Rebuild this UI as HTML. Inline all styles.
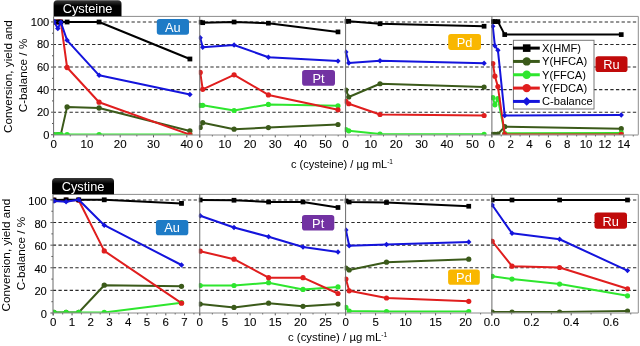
<!DOCTYPE html><html><head><meta charset="utf-8"><style>html,body{margin:0;padding:0;background:#fff;width:640px;height:346px;overflow:hidden}svg{display:block;will-change:transform}</style></head><body>
<svg width="640" height="346" viewBox="0 0 640 346" font-family="'Liberation Sans', sans-serif">
<defs><linearGradient id="tabg" x1="0" y1="0" x2="0" y2="1"><stop offset="0" stop-color="#3a3a3a"/><stop offset="0.35" stop-color="#000"/><stop offset="1" stop-color="#000"/></linearGradient>
<clipPath id="c00"><rect x="53.6" y="12.4" width="150.15" height="122.4"/></clipPath>
<clipPath id="c01"><rect x="198.85" y="12.4" width="150.75" height="122.4"/></clipPath>
<clipPath id="c02"><rect x="344.7" y="12.4" width="151.2" height="122.4"/></clipPath>
<clipPath id="c03"><rect x="491" y="12.4" width="151.3" height="122.4"/></clipPath>
<clipPath id="c10"><rect x="53" y="190.4" width="150.75" height="122.4"/></clipPath>
<clipPath id="c11"><rect x="198.85" y="190.4" width="150.75" height="122.4"/></clipPath>
<clipPath id="c12"><rect x="344.7" y="190.4" width="151.2" height="122.4"/></clipPath>
<clipPath id="c13"><rect x="491" y="190.4" width="151.3" height="122.4"/></clipPath>
</defs>
<line x1="53.6" y1="16.4" x2="638.3" y2="16.4" stroke="#8c8c8c" stroke-width="1"/>
<line x1="638.3" y1="16.4" x2="638.3" y2="134.75" stroke="#8c8c8c" stroke-width="1"/>
<line x1="53.6" y1="112.19" x2="636.3" y2="112.19" stroke="#2a2a2a" stroke-width="1.1" stroke-dasharray="3.3 2.333" stroke-dashoffset="0.95"/>
<line x1="53.6" y1="89.63" x2="636.3" y2="89.63" stroke="#2a2a2a" stroke-width="1.1" stroke-dasharray="3.3 2.333" stroke-dashoffset="0.95"/>
<line x1="53.6" y1="67.07" x2="636.3" y2="67.07" stroke="#2a2a2a" stroke-width="1.1" stroke-dasharray="3.3 2.333" stroke-dashoffset="0.95"/>
<line x1="53.6" y1="44.51" x2="636.3" y2="44.51" stroke="#2a2a2a" stroke-width="1.1" stroke-dasharray="3.3 2.333" stroke-dashoffset="0.95"/>
<line x1="53.6" y1="21.95" x2="636.3" y2="21.95" stroke="#2a2a2a" stroke-width="1.1" stroke-dasharray="3.3 2.333" stroke-dashoffset="0.95"/>
<line x1="51" y1="134.75" x2="53.6" y2="134.75" stroke="#555" stroke-width="1"/>
<text x="49.3" y="138.65" font-size="11.1" text-anchor="end" fill="#000" stroke="#000" stroke-width="0.1">0</text>
<line x1="52" y1="123.47" x2="53.6" y2="123.47" stroke="#555" stroke-width="1"/>
<line x1="51" y1="112.19" x2="53.6" y2="112.19" stroke="#555" stroke-width="1"/>
<text x="49.3" y="116.09" font-size="11.1" text-anchor="end" fill="#000" stroke="#000" stroke-width="0.1">20</text>
<line x1="52" y1="100.91" x2="53.6" y2="100.91" stroke="#555" stroke-width="1"/>
<line x1="51" y1="89.63" x2="53.6" y2="89.63" stroke="#555" stroke-width="1"/>
<text x="49.3" y="93.53" font-size="11.1" text-anchor="end" fill="#000" stroke="#000" stroke-width="0.1">40</text>
<line x1="52" y1="78.35" x2="53.6" y2="78.35" stroke="#555" stroke-width="1"/>
<line x1="51" y1="67.07" x2="53.6" y2="67.07" stroke="#555" stroke-width="1"/>
<text x="49.3" y="70.97" font-size="11.1" text-anchor="end" fill="#000" stroke="#000" stroke-width="0.1">60</text>
<line x1="52" y1="55.79" x2="53.6" y2="55.79" stroke="#555" stroke-width="1"/>
<line x1="51" y1="44.51" x2="53.6" y2="44.51" stroke="#555" stroke-width="1"/>
<text x="49.3" y="48.41" font-size="11.1" text-anchor="end" fill="#000" stroke="#000" stroke-width="0.1">80</text>
<line x1="52" y1="33.23" x2="53.6" y2="33.23" stroke="#555" stroke-width="1"/>
<line x1="51" y1="21.95" x2="53.6" y2="21.95" stroke="#555" stroke-width="1"/>
<text x="49.3" y="25.85" font-size="11.1" text-anchor="end" fill="#000" stroke="#000" stroke-width="0.1">100</text>
<text transform="translate(11.8 76.65) rotate(-90)" font-size="11.73" text-anchor="middle" fill="#000">Conversion, yield and</text>
<text transform="translate(27.0 75.5) rotate(-90)" font-size="11.73" text-anchor="middle" fill="#000">C-balance / %</text>
<text x="291.0" y="167.7" font-size="11.0" fill="#000">c (cysteine) / µg mL<tspan dy="-3.9" font-size="6.5">-1</tspan></text>
<path d="M53.6 16.3V3.8Q53.6 0.3 57.1 0.3H118Q121.5 0.3 121.5 3.8V16.3Z" fill="url(#tabg)"/>
<text x="87.55" y="12.7" font-size="12.8" text-anchor="middle" fill="#fff">Cysteine</text>
<line x1="53.0" y1="194.4" x2="638.3" y2="194.4" stroke="#8c8c8c" stroke-width="1"/>
<line x1="638.3" y1="194.4" x2="638.3" y2="313.0" stroke="#8c8c8c" stroke-width="1"/>
<line x1="53.0" y1="290.39" x2="636.3" y2="290.39" stroke="#2a2a2a" stroke-width="1.1" stroke-dasharray="3.3 2.333" stroke-dashoffset="0.19"/>
<line x1="53.0" y1="267.78" x2="636.3" y2="267.78" stroke="#2a2a2a" stroke-width="1.1" stroke-dasharray="3.3 2.333" stroke-dashoffset="0.19"/>
<line x1="53.0" y1="245.17" x2="636.3" y2="245.17" stroke="#2a2a2a" stroke-width="1.1" stroke-dasharray="3.3 2.333" stroke-dashoffset="0.19"/>
<line x1="53.0" y1="222.56" x2="636.3" y2="222.56" stroke="#2a2a2a" stroke-width="1.1" stroke-dasharray="3.3 2.333" stroke-dashoffset="0.19"/>
<line x1="53.0" y1="199.95" x2="636.3" y2="199.95" stroke="#2a2a2a" stroke-width="1.1" stroke-dasharray="3.3 2.333" stroke-dashoffset="0.19"/>
<line x1="50.4" y1="313" x2="53.0" y2="313" stroke="#555" stroke-width="1"/>
<text x="46.8" y="318" font-size="11.1" text-anchor="end" fill="#000" stroke="#000" stroke-width="0.1">0</text>
<line x1="51.4" y1="301.69" x2="53.0" y2="301.69" stroke="#555" stroke-width="1"/>
<line x1="50.4" y1="290.39" x2="53.0" y2="290.39" stroke="#555" stroke-width="1"/>
<text x="46.8" y="295.39" font-size="11.1" text-anchor="end" fill="#000" stroke="#000" stroke-width="0.1">20</text>
<line x1="51.4" y1="279.08" x2="53.0" y2="279.08" stroke="#555" stroke-width="1"/>
<line x1="50.4" y1="267.78" x2="53.0" y2="267.78" stroke="#555" stroke-width="1"/>
<text x="46.8" y="272.78" font-size="11.1" text-anchor="end" fill="#000" stroke="#000" stroke-width="0.1">40</text>
<line x1="51.4" y1="256.48" x2="53.0" y2="256.48" stroke="#555" stroke-width="1"/>
<line x1="50.4" y1="245.17" x2="53.0" y2="245.17" stroke="#555" stroke-width="1"/>
<text x="46.8" y="250.17" font-size="11.1" text-anchor="end" fill="#000" stroke="#000" stroke-width="0.1">60</text>
<line x1="51.4" y1="233.87" x2="53.0" y2="233.87" stroke="#555" stroke-width="1"/>
<line x1="50.4" y1="222.56" x2="53.0" y2="222.56" stroke="#555" stroke-width="1"/>
<text x="46.8" y="227.56" font-size="11.1" text-anchor="end" fill="#000" stroke="#000" stroke-width="0.1">80</text>
<line x1="51.4" y1="211.25" x2="53.0" y2="211.25" stroke="#555" stroke-width="1"/>
<line x1="50.4" y1="199.95" x2="53.0" y2="199.95" stroke="#555" stroke-width="1"/>
<text x="46.8" y="204.95" font-size="11.1" text-anchor="end" fill="#000" stroke="#000" stroke-width="0.1">100</text>
<text transform="translate(10.3 255.05) rotate(-90)" font-size="11.73" text-anchor="middle" fill="#000">Conversion, yield and</text>
<text transform="translate(24.9 253.55) rotate(-90)" font-size="11.73" text-anchor="middle" fill="#000">C-balance / %</text>
<text x="288.0" y="341.3" font-size="11.4" fill="#000">c (cystine) / µg mL<tspan dy="-3.9" font-size="6.5">-1</tspan></text>
<path d="M52.1 194.3V181.5Q52.1 178.0 55.6 178.0H110.5Q114.0 178.0 114.0 181.5V194.3Z" fill="url(#tabg)"/>
<text x="83.05" y="191.4" font-size="12.8" text-anchor="middle" fill="#fff">Cystine</text>
<line x1="53.6" y1="135.0" x2="53.6" y2="137.4" stroke="#555" stroke-width="1"/>
<text x="53.6" y="148.3" font-size="11.5" text-anchor="middle" fill="#000" stroke="#000" stroke-width="0.1">0</text>
<line x1="86.9" y1="135.0" x2="86.9" y2="137.4" stroke="#555" stroke-width="1"/>
<text x="86.9" y="148.3" font-size="11.5" text-anchor="middle" fill="#000" stroke="#000" stroke-width="0.1">10</text>
<line x1="120.2" y1="135.0" x2="120.2" y2="137.4" stroke="#555" stroke-width="1"/>
<text x="120.2" y="148.3" font-size="11.5" text-anchor="middle" fill="#000" stroke="#000" stroke-width="0.1">20</text>
<line x1="153.5" y1="135.0" x2="153.5" y2="137.4" stroke="#555" stroke-width="1"/>
<text x="153.5" y="148.3" font-size="11.5" text-anchor="middle" fill="#000" stroke="#000" stroke-width="0.1">30</text>
<line x1="186.8" y1="135.0" x2="186.8" y2="137.4" stroke="#555" stroke-width="1"/>
<text x="186.8" y="148.3" font-size="11.5" text-anchor="middle" fill="#000" stroke="#000" stroke-width="0.1">40</text>
<line x1="70.25" y1="135.0" x2="70.25" y2="136.4" stroke="#555" stroke-width="1"/>
<line x1="103.55" y1="135.0" x2="103.55" y2="136.4" stroke="#555" stroke-width="1"/>
<line x1="136.85" y1="135.0" x2="136.85" y2="136.4" stroke="#555" stroke-width="1"/>
<line x1="170.15" y1="135.0" x2="170.15" y2="136.4" stroke="#555" stroke-width="1"/>
<rect x="156.8" y="18.9" width="32.2" height="15.9" rx="2.8" fill="#1E7BC6"/>
<text x="172.9" y="31.9" font-size="12.8" text-anchor="middle" fill="#fff">Au</text>
<g clip-path="url(#c00)"><polyline points="54,134.6 57.8,134.6 60.8,134.6 67.1,106.9 99.1,108 189.9,131" fill="none" stroke="#3B5A1A" stroke-width="2.0" stroke-linejoin="round"/><circle cx="54" cy="134.6" r="2.64" fill="#3B5A1A"/><circle cx="57.8" cy="134.6" r="2.64" fill="#3B5A1A"/><circle cx="60.8" cy="134.6" r="2.64" fill="#3B5A1A"/><circle cx="67.1" cy="106.9" r="2.64" fill="#3B5A1A"/><circle cx="99.1" cy="108" r="2.64" fill="#3B5A1A"/><circle cx="189.9" cy="131" r="2.64" fill="#3B5A1A"/><polyline points="54,134.6 57.8,134.6 60.8,134.6 67.1,134.6 99.1,134.6 189.9,134.6" fill="none" stroke="#2EE62E" stroke-width="2.0" stroke-linejoin="round"/><circle cx="54" cy="134.6" r="2.64" fill="#2EE62E"/><circle cx="57.8" cy="134.6" r="2.64" fill="#2EE62E"/><circle cx="60.8" cy="134.6" r="2.64" fill="#2EE62E"/><circle cx="67.1" cy="134.6" r="2.64" fill="#2EE62E"/><circle cx="99.1" cy="134.6" r="2.64" fill="#2EE62E"/><circle cx="189.9" cy="134.6" r="2.64" fill="#2EE62E"/><polyline points="54,22 57.8,22 60.8,21.8 67.1,67.5 99.1,102.2 189.9,134.6" fill="none" stroke="#E01E1E" stroke-width="2.0" stroke-linejoin="round"/><circle cx="54" cy="22" r="2.64" fill="#E01E1E"/><circle cx="57.8" cy="22" r="2.64" fill="#E01E1E"/><circle cx="60.8" cy="21.8" r="2.64" fill="#E01E1E"/><circle cx="67.1" cy="67.5" r="2.64" fill="#E01E1E"/><circle cx="99.1" cy="102.2" r="2.64" fill="#E01E1E"/><circle cx="189.9" cy="134.6" r="2.64" fill="#E01E1E"/><polyline points="54,22 57.8,22 60.8,22 67.1,22 99.1,22 189.9,59" fill="none" stroke="#000000" stroke-width="2.0" stroke-linejoin="round"/><rect x="51.6" y="19.6" width="4.8" height="4.8" fill="#000000"/><rect x="55.4" y="19.6" width="4.8" height="4.8" fill="#000000"/><rect x="58.4" y="19.6" width="4.8" height="4.8" fill="#000000"/><rect x="64.7" y="19.6" width="4.8" height="4.8" fill="#000000"/><rect x="96.7" y="19.6" width="4.8" height="4.8" fill="#000000"/><rect x="187.5" y="56.6" width="4.8" height="4.8" fill="#000000"/><polyline points="54,21.6 57.8,28.6 60.8,22.2 67.1,40.3 99.1,75.3 189.9,94.5" fill="none" stroke="#1414DC" stroke-width="2.0" stroke-linejoin="round"/><path d="M54 18.86L56.74 21.6L54 24.34L51.26 21.6Z" fill="#1414DC"/><path d="M57.8 25.86L60.54 28.6L57.8 31.34L55.06 28.6Z" fill="#1414DC"/><path d="M60.8 19.46L63.54 22.2L60.8 24.94L58.06 22.2Z" fill="#1414DC"/><path d="M67.1 37.56L69.84 40.3L67.1 43.04L64.36 40.3Z" fill="#1414DC"/><path d="M99.1 72.56L101.84 75.3L99.1 78.04L96.36 75.3Z" fill="#1414DC"/><path d="M189.9 91.76L192.64 94.5L189.9 97.24L187.16 94.5Z" fill="#1414DC"/></g>
<line x1="53.6" y1="16.4" x2="53.6" y2="137.4" stroke="#6a6a6a" stroke-width="1"/>
<line x1="53.6" y1="135" x2="199.75" y2="135" stroke="#8c8c8c" stroke-width="1"/>
<line x1="199.75" y1="135.0" x2="199.75" y2="137.4" stroke="#555" stroke-width="1"/>
<text x="199.75" y="148.3" font-size="11.5" text-anchor="middle" fill="#000" stroke="#000" stroke-width="0.1">0</text>
<line x1="224.92" y1="135.0" x2="224.92" y2="137.4" stroke="#555" stroke-width="1"/>
<text x="224.92" y="148.3" font-size="11.5" text-anchor="middle" fill="#000" stroke="#000" stroke-width="0.1">10</text>
<line x1="250.09" y1="135.0" x2="250.09" y2="137.4" stroke="#555" stroke-width="1"/>
<text x="250.09" y="148.3" font-size="11.5" text-anchor="middle" fill="#000" stroke="#000" stroke-width="0.1">20</text>
<line x1="275.26" y1="135.0" x2="275.26" y2="137.4" stroke="#555" stroke-width="1"/>
<text x="275.26" y="148.3" font-size="11.5" text-anchor="middle" fill="#000" stroke="#000" stroke-width="0.1">30</text>
<line x1="300.43" y1="135.0" x2="300.43" y2="137.4" stroke="#555" stroke-width="1"/>
<text x="300.43" y="148.3" font-size="11.5" text-anchor="middle" fill="#000" stroke="#000" stroke-width="0.1">40</text>
<line x1="325.6" y1="135.0" x2="325.6" y2="137.4" stroke="#555" stroke-width="1"/>
<text x="325.6" y="148.3" font-size="11.5" text-anchor="middle" fill="#000" stroke="#000" stroke-width="0.1">50</text>
<line x1="212.34" y1="135.0" x2="212.34" y2="136.4" stroke="#555" stroke-width="1"/>
<line x1="237.5" y1="135.0" x2="237.5" y2="136.4" stroke="#555" stroke-width="1"/>
<line x1="262.68" y1="135.0" x2="262.68" y2="136.4" stroke="#555" stroke-width="1"/>
<line x1="287.85" y1="135.0" x2="287.85" y2="136.4" stroke="#555" stroke-width="1"/>
<line x1="313.01" y1="135.0" x2="313.01" y2="136.4" stroke="#555" stroke-width="1"/>
<line x1="338.19" y1="135.0" x2="338.19" y2="136.4" stroke="#555" stroke-width="1"/>
<rect x="302.1" y="70.1" width="32.9" height="15.7" rx="2.8" fill="#7232A2"/>
<text x="318.55" y="82.9" font-size="12.8" text-anchor="middle" fill="#fff">Pt</text>
<g clip-path="url(#c01)"><polyline points="200.2,127.5 202.7,122.7 234.1,129.2 268.4,127.6 338,124.5" fill="none" stroke="#3B5A1A" stroke-width="2.0" stroke-linejoin="round"/><circle cx="200.2" cy="127.5" r="2.59" fill="#3B5A1A"/><circle cx="202.7" cy="122.7" r="2.59" fill="#3B5A1A"/><circle cx="234.1" cy="129.2" r="2.59" fill="#3B5A1A"/><circle cx="268.4" cy="127.6" r="2.59" fill="#3B5A1A"/><circle cx="338" cy="124.5" r="2.59" fill="#3B5A1A"/><polyline points="200.2,105.3 202.7,105.3 234.1,110.5 268.4,104.4 338,105.8" fill="none" stroke="#2EE62E" stroke-width="2.0" stroke-linejoin="round"/><circle cx="200.2" cy="105.3" r="2.59" fill="#2EE62E"/><circle cx="202.7" cy="105.3" r="2.59" fill="#2EE62E"/><circle cx="234.1" cy="110.5" r="2.59" fill="#2EE62E"/><circle cx="268.4" cy="104.4" r="2.59" fill="#2EE62E"/><circle cx="338" cy="105.8" r="2.59" fill="#2EE62E"/><polyline points="200.2,72.4 202.7,89.3 234.1,74.8 268.4,94.9 338,109.8" fill="none" stroke="#E01E1E" stroke-width="2.0" stroke-linejoin="round"/><circle cx="200.2" cy="72.4" r="2.59" fill="#E01E1E"/><circle cx="202.7" cy="89.3" r="2.59" fill="#E01E1E"/><circle cx="234.1" cy="74.8" r="2.59" fill="#E01E1E"/><circle cx="268.4" cy="94.9" r="2.59" fill="#E01E1E"/><circle cx="338" cy="109.8" r="2.59" fill="#E01E1E"/><polyline points="200.2,22.2 202.7,22.7 234.1,22 268.4,23.2 338,31.9" fill="none" stroke="#000000" stroke-width="2.0" stroke-linejoin="round"/><rect x="197.85" y="19.85" width="4.7" height="4.7" fill="#000000"/><rect x="200.35" y="20.35" width="4.7" height="4.7" fill="#000000"/><rect x="231.75" y="19.65" width="4.7" height="4.7" fill="#000000"/><rect x="266.05" y="20.85" width="4.7" height="4.7" fill="#000000"/><rect x="335.65" y="29.55" width="4.7" height="4.7" fill="#000000"/><polyline points="200.2,37.7 202.7,47.3 234.1,45 268.4,57.2 338,61.1" fill="none" stroke="#1414DC" stroke-width="2.0" stroke-linejoin="round"/><path d="M200.2 35.02L202.88 37.7L200.2 40.38L197.52 37.7Z" fill="#1414DC"/><path d="M202.7 44.62L205.38 47.3L202.7 49.98L200.02 47.3Z" fill="#1414DC"/><path d="M234.1 42.32L236.78 45L234.1 47.68L231.42 45Z" fill="#1414DC"/><path d="M268.4 54.52L271.08 57.2L268.4 59.88L265.72 57.2Z" fill="#1414DC"/><path d="M338 58.42L340.68 61.1L338 63.78L335.32 61.1Z" fill="#1414DC"/></g>
<line x1="199.75" y1="16.4" x2="199.75" y2="137.4" stroke="#6a6a6a" stroke-width="1"/>
<line x1="199.75" y1="135" x2="345.6" y2="135" stroke="#8c8c8c" stroke-width="1"/>
<line x1="345.4" y1="135.0" x2="345.4" y2="137.4" stroke="#555" stroke-width="1"/>
<text x="345.4" y="148.3" font-size="11.5" text-anchor="middle" fill="#000" stroke="#000" stroke-width="0.1">0</text>
<line x1="370.8" y1="135.0" x2="370.8" y2="137.4" stroke="#555" stroke-width="1"/>
<text x="370.8" y="148.3" font-size="11.5" text-anchor="middle" fill="#000" stroke="#000" stroke-width="0.1">10</text>
<line x1="396.2" y1="135.0" x2="396.2" y2="137.4" stroke="#555" stroke-width="1"/>
<text x="396.2" y="148.3" font-size="11.5" text-anchor="middle" fill="#000" stroke="#000" stroke-width="0.1">20</text>
<line x1="421.6" y1="135.0" x2="421.6" y2="137.4" stroke="#555" stroke-width="1"/>
<text x="421.6" y="148.3" font-size="11.5" text-anchor="middle" fill="#000" stroke="#000" stroke-width="0.1">30</text>
<line x1="447" y1="135.0" x2="447" y2="137.4" stroke="#555" stroke-width="1"/>
<text x="447" y="148.3" font-size="11.5" text-anchor="middle" fill="#000" stroke="#000" stroke-width="0.1">40</text>
<line x1="472.4" y1="135.0" x2="472.4" y2="137.4" stroke="#555" stroke-width="1"/>
<text x="472.4" y="148.3" font-size="11.5" text-anchor="middle" fill="#000" stroke="#000" stroke-width="0.1">50</text>
<line x1="358.1" y1="135.0" x2="358.1" y2="136.4" stroke="#555" stroke-width="1"/>
<line x1="383.5" y1="135.0" x2="383.5" y2="136.4" stroke="#555" stroke-width="1"/>
<line x1="408.9" y1="135.0" x2="408.9" y2="136.4" stroke="#555" stroke-width="1"/>
<line x1="434.3" y1="135.0" x2="434.3" y2="136.4" stroke="#555" stroke-width="1"/>
<line x1="459.7" y1="135.0" x2="459.7" y2="136.4" stroke="#555" stroke-width="1"/>
<line x1="485.1" y1="135.0" x2="485.1" y2="136.4" stroke="#555" stroke-width="1"/>
<rect x="448.2" y="33.9" width="32.8" height="16" rx="2.8" fill="#F9B700"/>
<text x="464.6" y="47" font-size="12.8" text-anchor="middle" fill="#fff">Pd</text>
<g clip-path="url(#c02)"><polyline points="345.9,90 348.75,97 380,83.75 484.1,87" fill="none" stroke="#3B5A1A" stroke-width="2.0" stroke-linejoin="round"/><circle cx="345.9" cy="90" r="2.59" fill="#3B5A1A"/><circle cx="348.75" cy="97" r="2.59" fill="#3B5A1A"/><circle cx="380" cy="83.75" r="2.59" fill="#3B5A1A"/><circle cx="484.1" cy="87" r="2.59" fill="#3B5A1A"/><polyline points="345.9,129.5 348.75,130.8 380,134 484.1,134.3" fill="none" stroke="#2EE62E" stroke-width="2.0" stroke-linejoin="round"/><circle cx="345.9" cy="129.5" r="2.59" fill="#2EE62E"/><circle cx="348.75" cy="130.8" r="2.59" fill="#2EE62E"/><circle cx="380" cy="134" r="2.59" fill="#2EE62E"/><circle cx="484.1" cy="134.3" r="2.59" fill="#2EE62E"/><polyline points="345.9,101.25 348.75,103.75 380,114.5 484.1,115.5" fill="none" stroke="#E01E1E" stroke-width="2.0" stroke-linejoin="round"/><circle cx="345.9" cy="101.25" r="2.59" fill="#E01E1E"/><circle cx="348.75" cy="103.75" r="2.59" fill="#E01E1E"/><circle cx="380" cy="114.5" r="2.59" fill="#E01E1E"/><circle cx="484.1" cy="115.5" r="2.59" fill="#E01E1E"/><polyline points="345.9,21.3 348.75,21.3 380,23.75 484.1,26.25" fill="none" stroke="#000000" stroke-width="2.0" stroke-linejoin="round"/><rect x="343.55" y="18.95" width="4.7" height="4.7" fill="#000000"/><rect x="346.4" y="18.95" width="4.7" height="4.7" fill="#000000"/><rect x="377.65" y="21.4" width="4.7" height="4.7" fill="#000000"/><rect x="481.75" y="23.9" width="4.7" height="4.7" fill="#000000"/><polyline points="345.9,52 348.75,63 380,60.75 484.1,63.25" fill="none" stroke="#1414DC" stroke-width="2.0" stroke-linejoin="round"/><path d="M345.9 49.32L348.58 52L345.9 54.68L343.22 52Z" fill="#1414DC"/><path d="M348.75 60.32L351.43 63L348.75 65.68L346.07 63Z" fill="#1414DC"/><path d="M380 58.07L382.68 60.75L380 63.43L377.32 60.75Z" fill="#1414DC"/><path d="M484.1 60.57L486.78 63.25L484.1 65.93L481.42 63.25Z" fill="#1414DC"/></g>
<line x1="345.6" y1="16.4" x2="345.6" y2="137.4" stroke="#6a6a6a" stroke-width="1"/>
<line x1="345.6" y1="135" x2="491.9" y2="135" stroke="#8c8c8c" stroke-width="1"/>
<line x1="491.8" y1="135.0" x2="491.8" y2="137.4" stroke="#555" stroke-width="1"/>
<text x="491.8" y="148.3" font-size="11.5" text-anchor="middle" fill="#000" stroke="#000" stroke-width="0.1">0</text>
<line x1="510.66" y1="135.0" x2="510.66" y2="137.4" stroke="#555" stroke-width="1"/>
<text x="510.66" y="148.3" font-size="11.5" text-anchor="middle" fill="#000" stroke="#000" stroke-width="0.1">2</text>
<line x1="529.52" y1="135.0" x2="529.52" y2="137.4" stroke="#555" stroke-width="1"/>
<text x="529.52" y="148.3" font-size="11.5" text-anchor="middle" fill="#000" stroke="#000" stroke-width="0.1">4</text>
<line x1="548.38" y1="135.0" x2="548.38" y2="137.4" stroke="#555" stroke-width="1"/>
<text x="548.38" y="148.3" font-size="11.5" text-anchor="middle" fill="#000" stroke="#000" stroke-width="0.1">6</text>
<line x1="567.24" y1="135.0" x2="567.24" y2="137.4" stroke="#555" stroke-width="1"/>
<text x="567.24" y="148.3" font-size="11.5" text-anchor="middle" fill="#000" stroke="#000" stroke-width="0.1">8</text>
<line x1="586.1" y1="135.0" x2="586.1" y2="137.4" stroke="#555" stroke-width="1"/>
<text x="586.1" y="148.3" font-size="11.5" text-anchor="middle" fill="#000" stroke="#000" stroke-width="0.1">10</text>
<line x1="604.96" y1="135.0" x2="604.96" y2="137.4" stroke="#555" stroke-width="1"/>
<text x="604.96" y="148.3" font-size="11.5" text-anchor="middle" fill="#000" stroke="#000" stroke-width="0.1">12</text>
<line x1="623.82" y1="135.0" x2="623.82" y2="137.4" stroke="#555" stroke-width="1"/>
<text x="623.82" y="148.3" font-size="11.5" text-anchor="middle" fill="#000" stroke="#000" stroke-width="0.1">14</text>
<line x1="501.23" y1="135.0" x2="501.23" y2="136.4" stroke="#555" stroke-width="1"/>
<line x1="520.09" y1="135.0" x2="520.09" y2="136.4" stroke="#555" stroke-width="1"/>
<line x1="538.95" y1="135.0" x2="538.95" y2="136.4" stroke="#555" stroke-width="1"/>
<line x1="557.81" y1="135.0" x2="557.81" y2="136.4" stroke="#555" stroke-width="1"/>
<line x1="576.67" y1="135.0" x2="576.67" y2="136.4" stroke="#555" stroke-width="1"/>
<line x1="595.53" y1="135.0" x2="595.53" y2="136.4" stroke="#555" stroke-width="1"/>
<line x1="614.39" y1="135.0" x2="614.39" y2="136.4" stroke="#555" stroke-width="1"/>
<line x1="633.25" y1="135.0" x2="633.25" y2="136.4" stroke="#555" stroke-width="1"/>
<rect x="595.5" y="56.3" width="32" height="15.7" rx="2.8" fill="#C00A0A"/>
<text x="611.5" y="69.1" font-size="12.8" text-anchor="middle" fill="#fff">Ru</text>
<g clip-path="url(#c03)"><polyline points="492.8,134.3 494.9,134.3 497.9,134.1 504.7,126.7 621.25,128.7" fill="none" stroke="#3B5A1A" stroke-width="2.0" stroke-linejoin="round"/><circle cx="492.8" cy="134.3" r="2.59" fill="#3B5A1A"/><circle cx="494.9" cy="134.3" r="2.59" fill="#3B5A1A"/><circle cx="497.9" cy="134.1" r="2.59" fill="#3B5A1A"/><circle cx="504.7" cy="126.7" r="2.59" fill="#3B5A1A"/><circle cx="621.25" cy="128.7" r="2.59" fill="#3B5A1A"/><polyline points="492.8,97.7 494.9,104.8 497.9,98.5 504.7,133.3 621.25,132.9" fill="none" stroke="#2EE62E" stroke-width="2.0" stroke-linejoin="round"/><circle cx="492.8" cy="97.7" r="2.59" fill="#2EE62E"/><circle cx="494.9" cy="104.8" r="2.59" fill="#2EE62E"/><circle cx="497.9" cy="98.5" r="2.59" fill="#2EE62E"/><circle cx="504.7" cy="133.3" r="2.59" fill="#2EE62E"/><circle cx="621.25" cy="132.9" r="2.59" fill="#2EE62E"/><polyline points="492.8,63.5 494.9,76.2 497.9,86.6 504.7,134.4 621.25,134.4" fill="none" stroke="#E01E1E" stroke-width="2.0" stroke-linejoin="round"/><circle cx="492.8" cy="63.5" r="2.59" fill="#E01E1E"/><circle cx="494.9" cy="76.2" r="2.59" fill="#E01E1E"/><circle cx="497.9" cy="86.6" r="2.59" fill="#E01E1E"/><circle cx="504.7" cy="134.4" r="2.59" fill="#E01E1E"/><circle cx="621.25" cy="134.4" r="2.59" fill="#E01E1E"/><polyline points="492.8,21.6 494.9,21.6 497.9,21.6 504.7,34.6 621.25,34.6" fill="none" stroke="#000000" stroke-width="2.0" stroke-linejoin="round"/><rect x="490.45" y="19.25" width="4.7" height="4.7" fill="#000000"/><rect x="492.55" y="19.25" width="4.7" height="4.7" fill="#000000"/><rect x="495.55" y="19.25" width="4.7" height="4.7" fill="#000000"/><rect x="502.35" y="32.25" width="4.7" height="4.7" fill="#000000"/><rect x="618.9" y="32.25" width="4.7" height="4.7" fill="#000000"/><polyline points="492.8,26.3 494.9,45.8 497.9,50.2 504.7,115.5 621.25,115" fill="none" stroke="#1414DC" stroke-width="2.0" stroke-linejoin="round"/><path d="M492.8 23.62L495.48 26.3L492.8 28.98L490.12 26.3Z" fill="#1414DC"/><path d="M494.9 43.12L497.58 45.8L494.9 48.48L492.22 45.8Z" fill="#1414DC"/><path d="M497.9 47.52L500.58 50.2L497.9 52.88L495.22 50.2Z" fill="#1414DC"/><path d="M504.7 112.82L507.38 115.5L504.7 118.18L502.02 115.5Z" fill="#1414DC"/><path d="M621.25 112.32L623.93 115L621.25 117.68L618.57 115Z" fill="#1414DC"/></g>
<line x1="491.9" y1="16.4" x2="491.9" y2="137.4" stroke="#6a6a6a" stroke-width="1"/>
<line x1="491.9" y1="135" x2="638.3" y2="135" stroke="#8c8c8c" stroke-width="1"/>
<rect x="513.4" y="40.3" width="80.6" height="68.7" fill="#fff" stroke="#777" stroke-width="1"/>
<line x1="513.0" y1="48.1" x2="539.8" y2="48.1" stroke="#000000" stroke-width="3"/>
<rect x="522.9" y="44.3" width="7.6" height="7.6" fill="#000000"/>
<text x="542" y="52" font-size="11.15" fill="#000">X(HMF)</text>
<line x1="513.0" y1="61.43" x2="539.8" y2="61.43" stroke="#3B5A1A" stroke-width="3"/>
<circle cx="526.7" cy="61.43" r="4.18" fill="#3B5A1A"/>
<text x="542" y="65.33" font-size="11.15" fill="#000">Y(HFCA)</text>
<line x1="513.0" y1="74.76" x2="539.8" y2="74.76" stroke="#2EE62E" stroke-width="3"/>
<circle cx="526.7" cy="74.76" r="4.18" fill="#2EE62E"/>
<text x="542" y="78.66" font-size="11.15" fill="#000">Y(FFCA)</text>
<line x1="513.0" y1="88.09" x2="539.8" y2="88.09" stroke="#E01E1E" stroke-width="3"/>
<circle cx="526.7" cy="88.09" r="4.18" fill="#E01E1E"/>
<text x="542" y="91.99" font-size="11.15" fill="#000">Y(FDCA)</text>
<line x1="513.0" y1="101.42" x2="539.8" y2="101.42" stroke="#1414DC" stroke-width="3"/>
<path d="M526.7 97.09L531.03 101.42L526.7 105.75L522.37 101.42Z" fill="#1414DC"/>
<text x="542" y="105.32" font-size="11.15" fill="#000">C-balance</text>
<line x1="53.3" y1="313.0" x2="53.3" y2="315.4" stroke="#555" stroke-width="1"/>
<text x="53.3" y="326.2" font-size="11.5" text-anchor="middle" fill="#000" stroke="#000" stroke-width="0.1">0</text>
<line x1="72.05" y1="313.0" x2="72.05" y2="315.4" stroke="#555" stroke-width="1"/>
<text x="72.05" y="326.2" font-size="11.5" text-anchor="middle" fill="#000" stroke="#000" stroke-width="0.1">1</text>
<line x1="90.8" y1="313.0" x2="90.8" y2="315.4" stroke="#555" stroke-width="1"/>
<text x="90.8" y="326.2" font-size="11.5" text-anchor="middle" fill="#000" stroke="#000" stroke-width="0.1">2</text>
<line x1="109.55" y1="313.0" x2="109.55" y2="315.4" stroke="#555" stroke-width="1"/>
<text x="109.55" y="326.2" font-size="11.5" text-anchor="middle" fill="#000" stroke="#000" stroke-width="0.1">3</text>
<line x1="128.3" y1="313.0" x2="128.3" y2="315.4" stroke="#555" stroke-width="1"/>
<text x="128.3" y="326.2" font-size="11.5" text-anchor="middle" fill="#000" stroke="#000" stroke-width="0.1">4</text>
<line x1="147.05" y1="313.0" x2="147.05" y2="315.4" stroke="#555" stroke-width="1"/>
<text x="147.05" y="326.2" font-size="11.5" text-anchor="middle" fill="#000" stroke="#000" stroke-width="0.1">5</text>
<line x1="165.8" y1="313.0" x2="165.8" y2="315.4" stroke="#555" stroke-width="1"/>
<text x="165.8" y="326.2" font-size="11.5" text-anchor="middle" fill="#000" stroke="#000" stroke-width="0.1">6</text>
<line x1="184.55" y1="313.0" x2="184.55" y2="315.4" stroke="#555" stroke-width="1"/>
<text x="184.55" y="326.2" font-size="11.5" text-anchor="middle" fill="#000" stroke="#000" stroke-width="0.1">7</text>
<line x1="62.67" y1="313.0" x2="62.67" y2="314.4" stroke="#555" stroke-width="1"/>
<line x1="81.42" y1="313.0" x2="81.42" y2="314.4" stroke="#555" stroke-width="1"/>
<line x1="100.17" y1="313.0" x2="100.17" y2="314.4" stroke="#555" stroke-width="1"/>
<line x1="118.92" y1="313.0" x2="118.92" y2="314.4" stroke="#555" stroke-width="1"/>
<line x1="137.68" y1="313.0" x2="137.68" y2="314.4" stroke="#555" stroke-width="1"/>
<line x1="156.43" y1="313.0" x2="156.43" y2="314.4" stroke="#555" stroke-width="1"/>
<line x1="175.18" y1="313.0" x2="175.18" y2="314.4" stroke="#555" stroke-width="1"/>
<line x1="193.93" y1="313.0" x2="193.93" y2="314.4" stroke="#555" stroke-width="1"/>
<rect x="155.9" y="220.0" width="32.4" height="15.2" rx="2.8" fill="#1E7BC6"/>
<text x="172.1" y="232.3" font-size="12.8" text-anchor="middle" fill="#fff">Au</text>
<g clip-path="url(#c10)"><polyline points="54,312.5 66.1,312.5 78.7,312.5 104.25,285.2 181.5,286.3" fill="none" stroke="#3B5A1A" stroke-width="2.0" stroke-linejoin="round"/><circle cx="54" cy="312.5" r="2.64" fill="#3B5A1A"/><circle cx="66.1" cy="312.5" r="2.64" fill="#3B5A1A"/><circle cx="78.7" cy="312.5" r="2.64" fill="#3B5A1A"/><circle cx="104.25" cy="285.2" r="2.64" fill="#3B5A1A"/><circle cx="181.5" cy="286.3" r="2.64" fill="#3B5A1A"/><polyline points="54,312.5 66.1,312.5 78.7,312.5 104.25,312.5 181.5,302.7" fill="none" stroke="#2EE62E" stroke-width="2.0" stroke-linejoin="round"/><circle cx="54" cy="312.5" r="2.64" fill="#2EE62E"/><circle cx="66.1" cy="312.5" r="2.64" fill="#2EE62E"/><circle cx="78.7" cy="312.5" r="2.64" fill="#2EE62E"/><circle cx="104.25" cy="312.5" r="2.64" fill="#2EE62E"/><circle cx="181.5" cy="302.7" r="2.64" fill="#2EE62E"/><polyline points="54,200.2 66.1,200.2 78.7,200.2 104.25,250.9 181.5,303.2" fill="none" stroke="#E01E1E" stroke-width="2.0" stroke-linejoin="round"/><circle cx="54" cy="200.2" r="2.64" fill="#E01E1E"/><circle cx="66.1" cy="200.2" r="2.64" fill="#E01E1E"/><circle cx="78.7" cy="200.2" r="2.64" fill="#E01E1E"/><circle cx="104.25" cy="250.9" r="2.64" fill="#E01E1E"/><circle cx="181.5" cy="303.2" r="2.64" fill="#E01E1E"/><polyline points="54,200 66.1,199.8 78.7,199.8 104.25,199.8 181.5,203.4" fill="none" stroke="#000000" stroke-width="2.0" stroke-linejoin="round"/><rect x="51.6" y="197.6" width="4.8" height="4.8" fill="#000000"/><rect x="63.7" y="197.4" width="4.8" height="4.8" fill="#000000"/><rect x="76.3" y="197.4" width="4.8" height="4.8" fill="#000000"/><rect x="101.85" y="197.4" width="4.8" height="4.8" fill="#000000"/><rect x="179.1" y="201" width="4.8" height="4.8" fill="#000000"/><polyline points="54,201 66.1,201.7 78.7,199.8 104.25,225.2 181.5,265" fill="none" stroke="#1414DC" stroke-width="2.0" stroke-linejoin="round"/><path d="M54 198.26L56.74 201L54 203.74L51.26 201Z" fill="#1414DC"/><path d="M66.1 198.96L68.84 201.7L66.1 204.44L63.36 201.7Z" fill="#1414DC"/><path d="M78.7 197.06L81.44 199.8L78.7 202.54L75.96 199.8Z" fill="#1414DC"/><path d="M104.25 222.46L106.99 225.2L104.25 227.94L101.51 225.2Z" fill="#1414DC"/><path d="M181.5 262.26L184.24 265L181.5 267.74L178.76 265Z" fill="#1414DC"/></g>
<line x1="53.0" y1="194.4" x2="53.0" y2="315.4" stroke="#6a6a6a" stroke-width="1"/>
<line x1="53.0" y1="313" x2="199.75" y2="313" stroke="#8c8c8c" stroke-width="1"/>
<line x1="199.75" y1="313.0" x2="199.75" y2="315.4" stroke="#555" stroke-width="1"/>
<text x="199.75" y="326.2" font-size="11.5" text-anchor="middle" fill="#000" stroke="#000" stroke-width="0.1">0</text>
<line x1="224.92" y1="313.0" x2="224.92" y2="315.4" stroke="#555" stroke-width="1"/>
<text x="224.92" y="326.2" font-size="11.5" text-anchor="middle" fill="#000" stroke="#000" stroke-width="0.1">5</text>
<line x1="250.09" y1="313.0" x2="250.09" y2="315.4" stroke="#555" stroke-width="1"/>
<text x="250.09" y="326.2" font-size="11.5" text-anchor="middle" fill="#000" stroke="#000" stroke-width="0.1">10</text>
<line x1="275.26" y1="313.0" x2="275.26" y2="315.4" stroke="#555" stroke-width="1"/>
<text x="275.26" y="326.2" font-size="11.5" text-anchor="middle" fill="#000" stroke="#000" stroke-width="0.1">15</text>
<line x1="300.43" y1="313.0" x2="300.43" y2="315.4" stroke="#555" stroke-width="1"/>
<text x="300.43" y="326.2" font-size="11.5" text-anchor="middle" fill="#000" stroke="#000" stroke-width="0.1">20</text>
<line x1="325.6" y1="313.0" x2="325.6" y2="315.4" stroke="#555" stroke-width="1"/>
<text x="325.6" y="326.2" font-size="11.5" text-anchor="middle" fill="#000" stroke="#000" stroke-width="0.1">25</text>
<line x1="212.34" y1="313.0" x2="212.34" y2="314.4" stroke="#555" stroke-width="1"/>
<line x1="237.5" y1="313.0" x2="237.5" y2="314.4" stroke="#555" stroke-width="1"/>
<line x1="262.68" y1="313.0" x2="262.68" y2="314.4" stroke="#555" stroke-width="1"/>
<line x1="287.85" y1="313.0" x2="287.85" y2="314.4" stroke="#555" stroke-width="1"/>
<line x1="313.01" y1="313.0" x2="313.01" y2="314.4" stroke="#555" stroke-width="1"/>
<line x1="338.19" y1="313.0" x2="338.19" y2="314.4" stroke="#555" stroke-width="1"/>
<rect x="302.0" y="215.0" width="32.3" height="15.5" rx="2.8" fill="#7232A2"/>
<text x="318.15" y="227.6" font-size="12.8" text-anchor="middle" fill="#fff">Pt</text>
<g clip-path="url(#c11)"><polyline points="200.2,304.1 234,307.4 268.6,303.2 303,306.3 338,304.1" fill="none" stroke="#3B5A1A" stroke-width="2.0" stroke-linejoin="round"/><circle cx="200.2" cy="304.1" r="2.59" fill="#3B5A1A"/><circle cx="234" cy="307.4" r="2.59" fill="#3B5A1A"/><circle cx="268.6" cy="303.2" r="2.59" fill="#3B5A1A"/><circle cx="303" cy="306.3" r="2.59" fill="#3B5A1A"/><circle cx="338" cy="304.1" r="2.59" fill="#3B5A1A"/><polyline points="200.2,285.5 234,285.5 268.6,282.7 303,289.4 338,286.9" fill="none" stroke="#2EE62E" stroke-width="2.0" stroke-linejoin="round"/><circle cx="200.2" cy="285.5" r="2.59" fill="#2EE62E"/><circle cx="234" cy="285.5" r="2.59" fill="#2EE62E"/><circle cx="268.6" cy="282.7" r="2.59" fill="#2EE62E"/><circle cx="303" cy="289.4" r="2.59" fill="#2EE62E"/><circle cx="338" cy="286.9" r="2.59" fill="#2EE62E"/><polyline points="200.2,251.2 234,259.2 268.6,277.7 303,277.7 338,293.5" fill="none" stroke="#E01E1E" stroke-width="2.0" stroke-linejoin="round"/><circle cx="200.2" cy="251.2" r="2.59" fill="#E01E1E"/><circle cx="234" cy="259.2" r="2.59" fill="#E01E1E"/><circle cx="268.6" cy="277.7" r="2.59" fill="#E01E1E"/><circle cx="303" cy="277.7" r="2.59" fill="#E01E1E"/><circle cx="338" cy="293.5" r="2.59" fill="#E01E1E"/><polyline points="200.2,200 234,200.25 268.6,202 303,202 338,207.5" fill="none" stroke="#000000" stroke-width="2.0" stroke-linejoin="round"/><rect x="197.85" y="197.65" width="4.7" height="4.7" fill="#000000"/><rect x="231.65" y="197.9" width="4.7" height="4.7" fill="#000000"/><rect x="266.25" y="199.65" width="4.7" height="4.7" fill="#000000"/><rect x="300.65" y="199.65" width="4.7" height="4.7" fill="#000000"/><rect x="335.65" y="205.15" width="4.7" height="4.7" fill="#000000"/><polyline points="200.2,215.75 234,227.5 268.6,236.75 303,247 338,252" fill="none" stroke="#1414DC" stroke-width="2.0" stroke-linejoin="round"/><path d="M200.2 213.07L202.88 215.75L200.2 218.43L197.52 215.75Z" fill="#1414DC"/><path d="M234 224.82L236.68 227.5L234 230.18L231.32 227.5Z" fill="#1414DC"/><path d="M268.6 234.07L271.28 236.75L268.6 239.43L265.92 236.75Z" fill="#1414DC"/><path d="M303 244.32L305.68 247L303 249.68L300.32 247Z" fill="#1414DC"/><path d="M338 249.32L340.68 252L338 254.68L335.32 252Z" fill="#1414DC"/></g>
<line x1="199.75" y1="194.4" x2="199.75" y2="315.4" stroke="#6a6a6a" stroke-width="1"/>
<line x1="199.75" y1="313" x2="345.6" y2="313" stroke="#8c8c8c" stroke-width="1"/>
<line x1="345.6" y1="313.0" x2="345.6" y2="315.4" stroke="#555" stroke-width="1"/>
<text x="345.6" y="326.2" font-size="11.5" text-anchor="middle" fill="#000" stroke="#000" stroke-width="0.1">0</text>
<line x1="375.6" y1="313.0" x2="375.6" y2="315.4" stroke="#555" stroke-width="1"/>
<text x="375.6" y="326.2" font-size="11.5" text-anchor="middle" fill="#000" stroke="#000" stroke-width="0.1">5</text>
<line x1="405.6" y1="313.0" x2="405.6" y2="315.4" stroke="#555" stroke-width="1"/>
<text x="405.6" y="326.2" font-size="11.5" text-anchor="middle" fill="#000" stroke="#000" stroke-width="0.1">10</text>
<line x1="435.6" y1="313.0" x2="435.6" y2="315.4" stroke="#555" stroke-width="1"/>
<text x="435.6" y="326.2" font-size="11.5" text-anchor="middle" fill="#000" stroke="#000" stroke-width="0.1">15</text>
<line x1="465.6" y1="313.0" x2="465.6" y2="315.4" stroke="#555" stroke-width="1"/>
<text x="465.6" y="326.2" font-size="11.5" text-anchor="middle" fill="#000" stroke="#000" stroke-width="0.1">20</text>
<line x1="360.6" y1="313.0" x2="360.6" y2="314.4" stroke="#555" stroke-width="1"/>
<line x1="390.6" y1="313.0" x2="390.6" y2="314.4" stroke="#555" stroke-width="1"/>
<line x1="420.6" y1="313.0" x2="420.6" y2="314.4" stroke="#555" stroke-width="1"/>
<line x1="450.6" y1="313.0" x2="450.6" y2="314.4" stroke="#555" stroke-width="1"/>
<line x1="480.6" y1="313.0" x2="480.6" y2="314.4" stroke="#555" stroke-width="1"/>
<rect x="448.1" y="269.4" width="31.7" height="15.3" rx="2.8" fill="#F9B700"/>
<text x="463.95" y="281.8" font-size="12.8" text-anchor="middle" fill="#fff">Pd</text>
<g clip-path="url(#c12)"><polyline points="345.9,268 349.2,270 386.5,262.2 468.75,259.2" fill="none" stroke="#3B5A1A" stroke-width="2.0" stroke-linejoin="round"/><circle cx="345.9" cy="268" r="2.59" fill="#3B5A1A"/><circle cx="349.2" cy="270" r="2.59" fill="#3B5A1A"/><circle cx="386.5" cy="262.2" r="2.59" fill="#3B5A1A"/><circle cx="468.75" cy="259.2" r="2.59" fill="#3B5A1A"/><polyline points="345.9,307.4 349.2,311 386.5,311.5 468.75,311.5" fill="none" stroke="#2EE62E" stroke-width="2.0" stroke-linejoin="round"/><circle cx="345.9" cy="307.4" r="2.59" fill="#2EE62E"/><circle cx="349.2" cy="311" r="2.59" fill="#2EE62E"/><circle cx="386.5" cy="311.5" r="2.59" fill="#2EE62E"/><circle cx="468.75" cy="311.5" r="2.59" fill="#2EE62E"/><polyline points="345.9,279.1 349.2,290.8 386.5,298 468.75,301.3" fill="none" stroke="#E01E1E" stroke-width="2.0" stroke-linejoin="round"/><circle cx="345.9" cy="279.1" r="2.59" fill="#E01E1E"/><circle cx="349.2" cy="290.8" r="2.59" fill="#E01E1E"/><circle cx="386.5" cy="298" r="2.59" fill="#E01E1E"/><circle cx="468.75" cy="301.3" r="2.59" fill="#E01E1E"/><polyline points="345.9,201 349.2,202 386.5,202.5 468.75,206.25" fill="none" stroke="#000000" stroke-width="2.0" stroke-linejoin="round"/><rect x="343.55" y="198.65" width="4.7" height="4.7" fill="#000000"/><rect x="346.85" y="199.65" width="4.7" height="4.7" fill="#000000"/><rect x="384.15" y="200.15" width="4.7" height="4.7" fill="#000000"/><rect x="466.4" y="203.9" width="4.7" height="4.7" fill="#000000"/><polyline points="345.9,230 349.2,245.75 386.5,244.5 468.75,242" fill="none" stroke="#1414DC" stroke-width="2.0" stroke-linejoin="round"/><path d="M345.9 227.32L348.58 230L345.9 232.68L343.22 230Z" fill="#1414DC"/><path d="M349.2 243.07L351.88 245.75L349.2 248.43L346.52 245.75Z" fill="#1414DC"/><path d="M386.5 241.82L389.18 244.5L386.5 247.18L383.82 244.5Z" fill="#1414DC"/><path d="M468.75 239.32L471.43 242L468.75 244.68L466.07 242Z" fill="#1414DC"/></g>
<line x1="345.6" y1="194.4" x2="345.6" y2="315.4" stroke="#6a6a6a" stroke-width="1"/>
<line x1="345.6" y1="313" x2="491.9" y2="313" stroke="#8c8c8c" stroke-width="1"/>
<line x1="491.8" y1="313.0" x2="491.8" y2="315.4" stroke="#555" stroke-width="1"/>
<text x="491.8" y="326.2" font-size="11.5" text-anchor="middle" fill="#000" stroke="#000" stroke-width="0.1">0.0</text>
<line x1="531.5" y1="313.0" x2="531.5" y2="315.4" stroke="#555" stroke-width="1"/>
<text x="531.5" y="326.2" font-size="11.5" text-anchor="middle" fill="#000" stroke="#000" stroke-width="0.1">0.2</text>
<line x1="571.2" y1="313.0" x2="571.2" y2="315.4" stroke="#555" stroke-width="1"/>
<text x="571.2" y="326.2" font-size="11.5" text-anchor="middle" fill="#000" stroke="#000" stroke-width="0.1">0.4</text>
<line x1="610.9" y1="313.0" x2="610.9" y2="315.4" stroke="#555" stroke-width="1"/>
<text x="610.9" y="326.2" font-size="11.5" text-anchor="middle" fill="#000" stroke="#000" stroke-width="0.1">0.6</text>
<line x1="511.65" y1="313.0" x2="511.65" y2="314.4" stroke="#555" stroke-width="1"/>
<line x1="551.35" y1="313.0" x2="551.35" y2="314.4" stroke="#555" stroke-width="1"/>
<line x1="591.05" y1="313.0" x2="591.05" y2="314.4" stroke="#555" stroke-width="1"/>
<line x1="630.75" y1="313.0" x2="630.75" y2="314.4" stroke="#555" stroke-width="1"/>
<rect x="594.5" y="212.5" width="32.5" height="16.3" rx="2.8" fill="#C00A0A"/>
<text x="610.75" y="225.9" font-size="12.8" text-anchor="middle" fill="#fff">Ru</text>
<g clip-path="url(#c13)"><polyline points="492.2,312 512,312 559.6,312 627.5,311" fill="none" stroke="#3B5A1A" stroke-width="2.0" stroke-linejoin="round"/><circle cx="492.2" cy="312" r="2.59" fill="#3B5A1A"/><circle cx="512" cy="312" r="2.59" fill="#3B5A1A"/><circle cx="559.6" cy="312" r="2.59" fill="#3B5A1A"/><circle cx="627.5" cy="311" r="2.59" fill="#3B5A1A"/><polyline points="492.2,276.3 512,279.1 559.6,284.1 627.5,295.8" fill="none" stroke="#2EE62E" stroke-width="2.0" stroke-linejoin="round"/><circle cx="492.2" cy="276.3" r="2.59" fill="#2EE62E"/><circle cx="512" cy="279.1" r="2.59" fill="#2EE62E"/><circle cx="559.6" cy="284.1" r="2.59" fill="#2EE62E"/><circle cx="627.5" cy="295.8" r="2.59" fill="#2EE62E"/><polyline points="492.2,241.25 512,266.2 559.6,267.5 627.5,288.8" fill="none" stroke="#E01E1E" stroke-width="2.0" stroke-linejoin="round"/><circle cx="492.2" cy="241.25" r="2.59" fill="#E01E1E"/><circle cx="512" cy="266.2" r="2.59" fill="#E01E1E"/><circle cx="559.6" cy="267.5" r="2.59" fill="#E01E1E"/><circle cx="627.5" cy="288.8" r="2.59" fill="#E01E1E"/><polyline points="492.2,200 512,200 559.6,200 627.5,200" fill="none" stroke="#000000" stroke-width="2.0" stroke-linejoin="round"/><rect x="489.85" y="197.65" width="4.7" height="4.7" fill="#000000"/><rect x="509.65" y="197.65" width="4.7" height="4.7" fill="#000000"/><rect x="557.25" y="197.65" width="4.7" height="4.7" fill="#000000"/><rect x="625.15" y="197.65" width="4.7" height="4.7" fill="#000000"/><polyline points="492.2,205 512,233.25 559.6,239.25 627.5,270.6" fill="none" stroke="#1414DC" stroke-width="2.0" stroke-linejoin="round"/><path d="M492.2 202.32L494.88 205L492.2 207.68L489.52 205Z" fill="#1414DC"/><path d="M512 230.57L514.68 233.25L512 235.93L509.32 233.25Z" fill="#1414DC"/><path d="M559.6 236.57L562.28 239.25L559.6 241.93L556.92 239.25Z" fill="#1414DC"/><path d="M627.5 267.92L630.18 270.6L627.5 273.28L624.82 270.6Z" fill="#1414DC"/></g>
<line x1="491.9" y1="194.4" x2="491.9" y2="315.4" stroke="#6a6a6a" stroke-width="1"/>
<line x1="491.9" y1="313" x2="638.3" y2="313" stroke="#8c8c8c" stroke-width="1"/>
</svg></body></html>
